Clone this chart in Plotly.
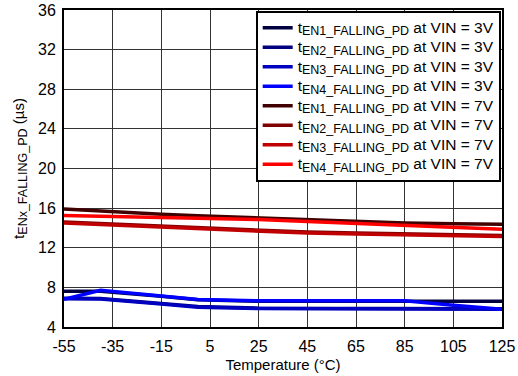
import plotly.graph_objects as go

temps = [-55, -40, -15, 0, 25, 45, 65, 85, 105, 125]

en1_3v = [7.6, 7.6, 7.1, 6.75, 6.6, 6.6, 6.6, 6.6, 6.6, 6.6]
en2_3v = [6.9, 6.88, 6.38, 6.06, 5.9, 5.88, 5.87, 5.86, 5.85, 5.85]
en3_3v = [6.85, 6.83, 6.33, 6.0, 5.86, 5.85, 5.84, 5.83, 5.82, 5.8]
en4_3v = [6.8, 7.7, 7.12, 6.77, 6.65, 6.65, 6.65, 6.65, 6.2, 5.8]

en1_7v = [15.9, 15.68, 15.38, 15.23, 15.0, 14.82, 14.62, 14.5, 14.42, 14.37]
en2_7v = [14.6, 14.45, 14.15, 13.97, 13.72, 13.58, 13.48, 13.38, 13.3, 13.24]
en3_7v = [14.5, 14.35, 14.05, 13.87, 13.62, 13.48, 13.38, 13.28, 13.2, 13.14]
en4_7v = [15.25, 15.2, 15.05, 14.97, 14.85, 14.65, 14.45, 14.27, 14.05, 13.87]

x_ticks = [-55, -35, -15, 5, 25, 45, 65, 85, 105, 125]
x_ticktext = ["-55", "-35", "-15", "5", "25", "45", "65", "85", "105", "125"]
y_ticks = [4, 8, 12, 16, 20, 24, 28, 32, 36]


def sub(s, px=12.5):
    return '<sub><span style="font-size:%spx">%s</span></sub>' % (px, s)


def big(s, px=15.5):
    return '<span style="font-size:%spx">%s</span>' % (px, s)


def label(en, vin):
    return big("t") + sub("EN%d_FALLING_PD" % en) + big(" at VIN = %s" % vin)


series = [
    (label(1, "3V"), en1_3v, "#000040"),
    (label(2, "3V"), en2_3v, "#000080"),
    (label(3, "3V"), en3_3v, "#0000C0"),
    (label(4, "3V"), en4_3v, "#0000FF"),
    (label(1, "7V"), en1_7v, "#400000"),
    (label(2, "7V"), en2_7v, "#800000"),
    (label(3, "7V"), en3_7v, "#C00000"),
    (label(4, "7V"), en4_7v, "#FF0000"),
]

fig = go.Figure()
for name, vals, col in series:
    fig.add_trace(go.Scatter(x=temps, y=vals, name=name, mode="lines",
                             line=dict(color=col, width=3.5)))

FAM = "Liberation Sans, Arial, sans-serif"
fig.update_layout(
    width=518, height=376,
    margin=dict(l=64, r=16, t=10, b=49, autoexpand=False),
    paper_bgcolor="white", plot_bgcolor="white",
    font=dict(family=FAM, size=16, color="#000"),
    showlegend=True,
    legend=dict(x=0.997, y=0.997, xanchor="right", yanchor="top",
                bgcolor="white", bordercolor="black", borderwidth=2,
                font=dict(family=FAM, size=12.7),
                tracegroupgap=0, itemwidth=30),
    xaxis=dict(range=[-55, 125], tickvals=x_ticks, ticktext=x_ticktext,
               showgrid=True, automargin=False, ticklabelstandoff=4,
               gridcolor="#333", gridwidth=1, zeroline=False,
               showline=True, linecolor="black", linewidth=2, mirror=True,
               tickfont=dict(size=16),
               ticks="", title=dict(text="Temperature (°C)", standoff=5,
                                     font=dict(size=15))),
    yaxis=dict(range=[4, 36], tickvals=y_ticks, showgrid=True, automargin=False,
               ticklabelstandoff=3,
               gridcolor="#333", gridwidth=1, zeroline=False,
               showline=True, linecolor="black", linewidth=2, mirror=True,
               tickfont=dict(size=16),
               ticks="", title=dict(text="t" + sub("ENx_FALLING_PD", 12.5) + " (µs)",
                                     standoff=10, font=dict(size=15))),
)

fig.write_html("out.html", config={"displayModeBar": False},
               post_script="document.body.style.margin='0';")
